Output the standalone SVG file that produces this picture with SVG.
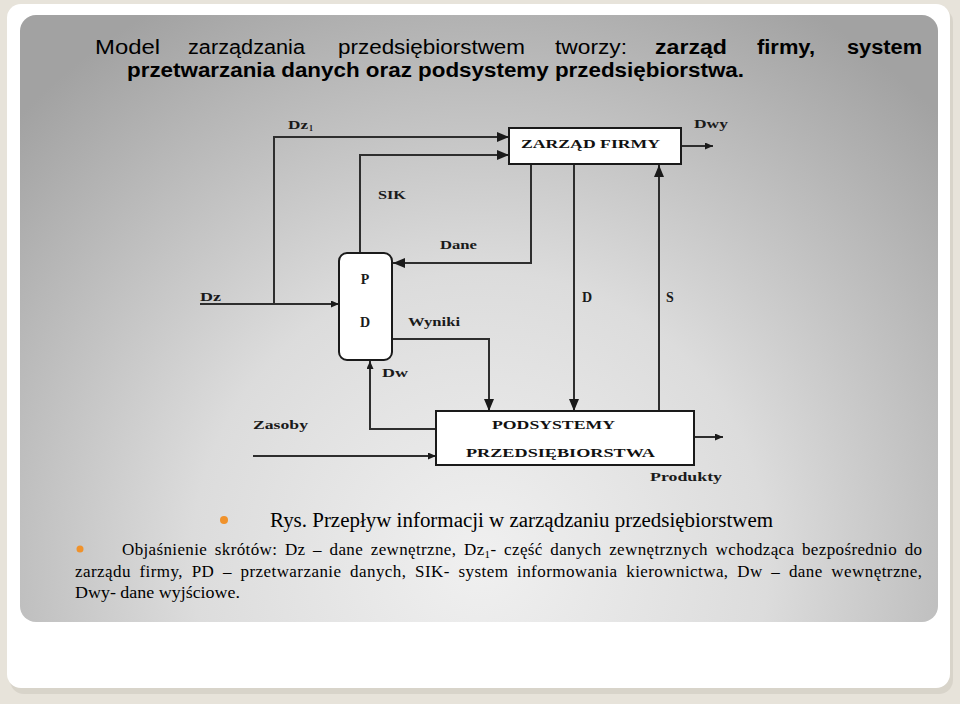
<svg xmlns="http://www.w3.org/2000/svg" width="960" height="704" viewBox="0 0 960 704">
<style>
.lbl{font-family:"Liberation Serif","DejaVu Serif",serif;font-weight:bold;fill:#1a1a1a}
.box{font-family:"Liberation Serif","DejaVu Serif",serif;font-weight:bold;fill:#111}
.ln{fill:none;stroke:#2e2e2e;stroke-width:2}
.ttl{font-family:"Liberation Sans Narrow","Liberation Sans",Arial,sans-serif;fill:#000}
.b{font-weight:bold}
.cap{font-family:"Liberation Serif","Times New Roman",serif;fill:#000}
</style>
<defs>
<radialGradient id="bg" cx="480" cy="560" r="640" gradientUnits="userSpaceOnUse">
<stop offset="0" stop-color="#f0f0f0"/>
<stop offset="0.45" stop-color="#dcdcdc"/>
<stop offset="1" stop-color="#a2a2a2"/>
</radialGradient>
<marker id="ab" markerUnits="userSpaceOnUse" markerWidth="13" markerHeight="11" refX="12" refY="5" orient="auto">
<path d="M0,0 L12,5 L0,10 z" fill="#1a1a1a"/>
</marker>
<marker id="as" markerUnits="userSpaceOnUse" markerWidth="9" markerHeight="8" refX="8" refY="3.5" orient="auto">
<path d="M0,0 L8,3.5 L0,7 z" fill="#1a1a1a"/>
</marker>
</defs>
<rect x="0" y="0" width="960" height="704" fill="#e7e3da"/>
<rect x="10" y="8" width="943" height="686" rx="14" fill="#cfcac0" opacity="0.6"/>
<rect x="7" y="4" width="943" height="684" rx="14" fill="#ffffff"/>
<rect x="20" y="15" width="918" height="607" rx="16" fill="url(#bg)"/>

<g id="title" font-size="20">
<text class="ttl" x="95" y="54" textLength="65" lengthAdjust="spacingAndGlyphs">Model</text>
<text class="ttl" x="188" y="54" textLength="117" lengthAdjust="spacingAndGlyphs">zarządzania</text>
<text class="ttl" x="338" y="54" textLength="187" lengthAdjust="spacingAndGlyphs">przedsiębiorstwem</text>
<text class="ttl" x="555" y="54" textLength="72" lengthAdjust="spacingAndGlyphs">tworzy:</text>
<text class="ttl b" x="655" y="54" textLength="72" lengthAdjust="spacingAndGlyphs">zarząd</text>
<text class="ttl b" x="757" y="54" textLength="58" lengthAdjust="spacingAndGlyphs">firmy,</text>
<text class="ttl b" x="847" y="54" textLength="75" lengthAdjust="spacingAndGlyphs">system</text>
<text class="ttl b" x="127" y="77" textLength="617" lengthAdjust="spacingAndGlyphs">przetwarzania danych oraz podsystemy przedsiębiorstwa.</text>
</g>

<g id="connectors">
<polyline class="ln" points="200,304 339,304" marker-end="url(#as)"/>
<polyline class="ln" points="274,304 274,137 509,137" marker-end="url(#ab)"/>
<polyline class="ln" points="360,253 360,155 509,155" marker-end="url(#ab)"/>
<polyline class="ln" points="531,164 531,263 393,263" marker-end="url(#ab)"/>
<polyline class="ln" points="681,146 713,146" marker-end="url(#as)"/>
<polyline class="ln" points="392,339 489,339 489,411" marker-end="url(#ab)"/>
<polyline class="ln" points="574,164 574,411" marker-end="url(#ab)"/>
<polyline class="ln" points="659,411 659,165" marker-end="url(#ab)"/>
<polyline class="ln" points="436,429 370,429 370,361" marker-end="url(#as)"/>
<polyline class="ln" points="253,456 436,456" marker-end="url(#as)"/>
<polyline class="ln" points="694,437 723,437" marker-end="url(#as)"/>
</g>

<g id="zarzad">
<rect x="509" y="128" width="172" height="36" fill="#fff" stroke="#1a1a1a" stroke-width="2"/>
<text class="box" x="521" y="148" font-size="13" textLength="139" lengthAdjust="spacingAndGlyphs">ZARZĄD FIRMY</text>
</g>
<g id="pd">
<rect x="339" y="253" width="53" height="107" rx="8" fill="#fff" stroke="#1a1a1a" stroke-width="2"/>
<text class="lbl" x="365" y="284" text-anchor="middle" font-size="14">P</text>
<text class="lbl" x="365" y="327" text-anchor="middle" font-size="14">D</text>
</g>
<g id="podsystemy">
<rect x="436" y="411" width="258" height="54" fill="#fff" stroke="#1a1a1a" stroke-width="2"/>
<text class="box" x="492" y="429" font-size="13" textLength="123" lengthAdjust="spacingAndGlyphs">PODSYSTEMY</text>
<text class="box" x="466" y="457" font-size="13" textLength="189" lengthAdjust="spacingAndGlyphs">PRZEDSIĘBIORSTWA</text>
</g>

<g id="labels" font-size="12">
<text class="lbl" x="288" y="129" textLength="20" lengthAdjust="spacingAndGlyphs">Dz</text>
<text class="lbl" x="309" y="131" font-size="8">1</text>
<text class="lbl" x="694" y="128" textLength="34" lengthAdjust="spacingAndGlyphs">Dwy</text>
<text class="lbl" x="378" y="199" textLength="28" lengthAdjust="spacingAndGlyphs">SIK</text>
<text class="lbl" x="440" y="249" textLength="37" lengthAdjust="spacingAndGlyphs">Dane</text>
<text class="lbl" x="200" y="301" textLength="21" lengthAdjust="spacingAndGlyphs">Dz</text>
<text class="lbl" x="408" y="326" textLength="52" lengthAdjust="spacingAndGlyphs">Wyniki</text>
<text class="lbl" x="382" y="377" textLength="26" lengthAdjust="spacingAndGlyphs">Dw</text>
<text class="lbl" x="253" y="429" textLength="55" lengthAdjust="spacingAndGlyphs">Zasoby</text>
<text class="lbl" x="582" y="302" font-size="14">D</text>
<text class="lbl" x="666" y="302" font-size="14">S</text>
<text class="lbl" x="650" y="481" textLength="72" lengthAdjust="spacingAndGlyphs">Produkty</text>
</g>

<g id="caption">
<circle cx="224" cy="520" r="4" fill="#f0922b"/>
<text class="cap" x="270" y="527" font-size="20" textLength="503" lengthAdjust="spacingAndGlyphs">Rys. Przepływ informacji w zarządzaniu przedsiębiorstwem</text>
<circle cx="80" cy="549" r="3.5" fill="#f0922b"/>
<text class="cap" x="122" y="555" font-size="17" word-spacing="3" textLength="800" lengthAdjust="spacing">Objaśnienie skrótów: Dz – dane zewnętrzne, Dz<tspan font-size="11" dy="3">1</tspan><tspan dy="-3">- część danych zewnętrznych wchodząca bezpośrednio do</tspan></text>
<text class="cap" x="75" y="577" font-size="17" word-spacing="4" textLength="847" lengthAdjust="spacing">zarządu firmy, PD – przetwarzanie danych, SIK- system informowania kierownictwa, Dw – dane wewnętrzne,</text>
<text class="cap" x="75" y="598" font-size="17" textLength="165" lengthAdjust="spacingAndGlyphs">Dwy- dane wyjściowe.</text>
</g>
</svg>
